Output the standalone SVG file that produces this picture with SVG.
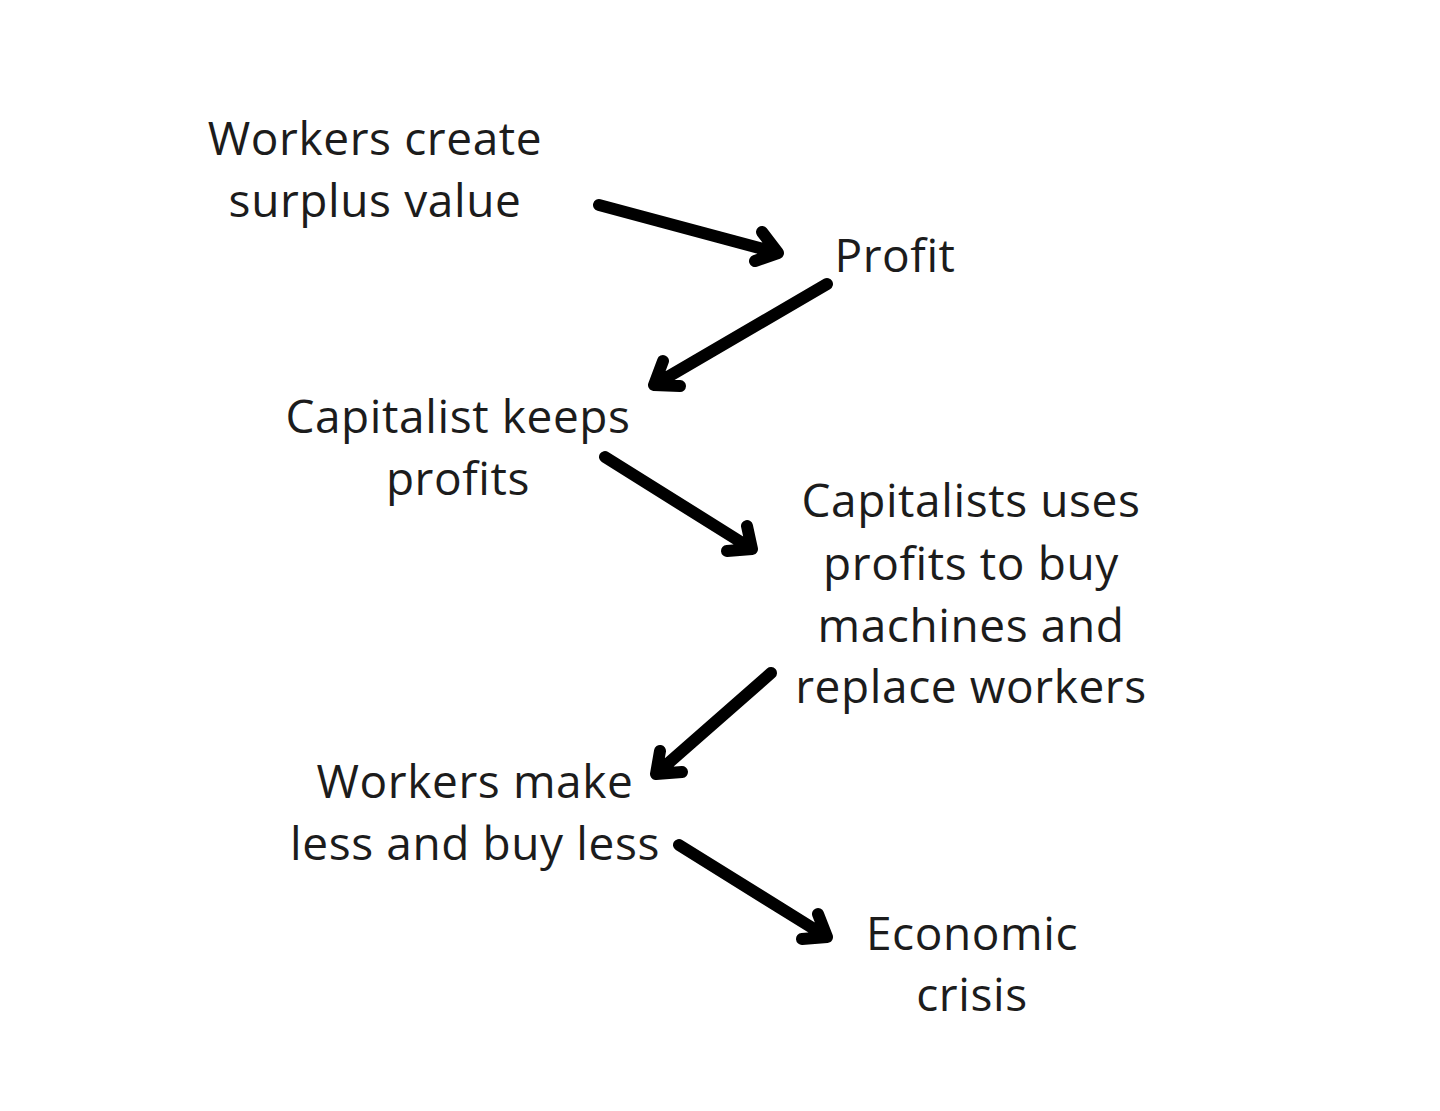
<svg xmlns="http://www.w3.org/2000/svg" width="1440" height="1111" viewBox="0 0 1440 1111">
<style>
text{font-family:"Open Sans","Noto Sans",sans-serif;font-size:46px;letter-spacing:0.6px;fill:#1c1c1c;text-anchor:middle}
.a{fill:none;stroke:#000;stroke-width:12;stroke-linecap:round;stroke-linejoin:round}
</style>
<rect width="1440" height="1111" fill="#fff"/>
<g id="n1"><text x="375" y="155">Workers create</text><text x="375" y="217">surplus value</text></g>
<g id="n2"><text x="895" y="272">Profit</text></g>
<g id="n3"><text x="458" y="433">Capitalist keeps</text><text x="458" y="495">profits</text></g>
<g id="n4"><text x="971" y="517">Capitalists uses</text><text x="971" y="580">profits to buy</text><text x="971" y="642">machines and</text><text x="971" y="703">replace workers</text></g>
<g id="n5"><text x="475" y="798">Workers make</text><text x="475" y="860">less and buy less</text></g>
<g id="n6"><text x="972" y="950">Economic</text><text x="972" y="1011">crisis</text></g>
<g id="connectors">
<path class="a" d="M599 205L778 253M762 232L778 253L755 261"/>
<path class="a" d="M827 284L654 385M663 361L654 385L680 386"/>
<path class="a" d="M605 457L752 549M747 526L752 549L727 551"/>
<path class="a" d="M771 673L656 774M660 751L656 774L682 772"/>
<path class="a" d="M679 845L827 937M818 914L827 937L802 939"/>
</g>
</svg>
